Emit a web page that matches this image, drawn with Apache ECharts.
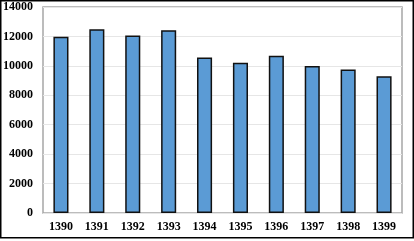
<!DOCTYPE html>
<html><head><meta charset="utf-8">
<script src="https://cdn.jsdelivr.net/npm/echarts@6/dist/echarts.min.js"></script>
<style>html,body{margin:0;padding:0;background:#fff}#c{width:414px;height:241px}</style>
</head><body><div id="c"></div>
<script>
const categories = ['1390','1391','1392','1393','1394','1395','1396','1397','1398','1399'];
const values = [11980, 12480, 12060, 12420, 10560, 10210, 10690, 9990, 9760, 9290];
const yTicks = {min: 0, max: 14000, interval: 2000};

const chart = echarts.init(document.getElementById('c'), null, {renderer: 'canvas'});
const font = {fontFamily: '"Liberation Serif", "Times New Roman", serif', fontWeight: 'bold', fontSize: 12, color: '#000'};
chart.setOption({
  animation: false,
  backgroundColor: '#fff',
  graphic: [{
    type: 'rect', shape: {x: 0.75, y: 0.75, width: 412.5, height: 237}, silent: true,
    style: {fill: 'none', stroke: '#000', lineWidth: 1.5}
  }],
  grid: {left: 43, right: 12, top: 7, bottom: 28, show: true, borderColor: '#a6a6a6', borderWidth: 1.5, backgroundColor: 'transparent'},
  xAxis: {
    type: 'category', data: categories,
    axisLine: {show: false}, axisTick: {show: false},
    axisLabel: Object.assign({margin: 8}, font)
  },
  yAxis: {
    type: 'value', min: yTicks.min, max: yTicks.max, interval: yTicks.interval,
    axisLine: {show: false}, axisTick: {show: false},
    splitLine: {lineStyle: {color: '#e6e6e6', width: 1}},
    axisLabel: Object.assign({margin: 10, formatter: v => String(v)}, font)
  },
  series: [{
    type: 'bar', data: values, barWidth: '42%',
    itemStyle: {color: '#5b9bd5', borderColor: '#111', borderWidth: 1.5}
  }]
});
</script></body></html>
